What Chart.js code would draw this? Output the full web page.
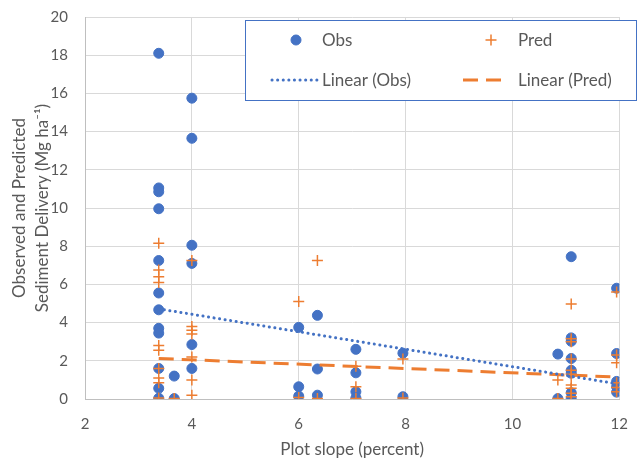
<!DOCTYPE html>
<html>
<head>
<meta charset="utf-8">
<script src="https://cdn.jsdelivr.net/npm/chart.js@4.4.1/dist/chart.umd.min.js"></script>
<style>
  html, body { margin: 0; padding: 0; background: #fff; }
  #wrap { width: 644px; height: 466px; position: relative; }
</style>
</head>
<body>
<div id="wrap"><canvas id="chart"></canvas></div>
<script>
// Observed sediment delivery (Mg/ha) against plot slope (%)
const obsSlope = [
  3.38, 3.38, 3.38, 3.38, 3.38, 3.38, 3.38, 3.38, 3.38, 3.38, 3.38, 3.38,
  3.67, 3.67,
  4, 4, 4, 4, 4, 4,
  6, 6, 6,
  6.35, 6.35, 6.35,
  7.07, 7.07, 7.07, 7.07,
  7.95, 7.95,
  10.85, 10.85,
  11.1, 11.1, 11.1, 11.1, 11.1, 11.1, 11.1, 11.1,
  11.95, 11.95, 11.95, 11.95, 11.95
];
const obsDelivery = [
  18.1, 11.05, 10.85, 9.96, 7.25, 5.55, 4.67, 3.7, 3.45, 1.6, 0.56, 0.04,
  1.2, 0.02,
  15.75, 13.65, 8.05, 7.1, 2.85, 1.6,
  3.75, 0.64, 0.15,
  4.38, 1.57, 0.2,
  2.6, 1.37, 0.38, 0.05,
  2.4, 0.12,
  2.35, 0.02,
  7.45, 3.2, 3.02, 2.12, 1.5, 1.35, 0.33, 0.03,
  5.8, 2.38, 0.92, 0.64, 0.36
];

// Predicted sediment delivery
const predSlope = [
  3.38, 3.38, 3.38, 3.38, 3.38, 3.38, 3.38, 3.38, 3.38, 3.38,
  3.67,
  4, 4, 4, 4, 4, 4, 4,
  6, 6,
  6.35, 6.35,
  7.07, 7.07, 7.07,
  7.95, 7.95,
  10.85, 10.85,
  11.1, 11.1, 11.1, 11.1, 11.1, 11.1, 11.1, 11.1, 11.1, 11.1,
  11.95, 11.95, 11.95, 11.95, 11.95, 11.95
];
const predDelivery = [
  8.15, 6.75, 6.4, 6.1, 2.8, 2.55, 1.6, 1.1, 0.85, 0.05,
  0.03,
  7.25, 3.8, 3.6, 3.4, 2.2, 1.0, 0.2,
  5.1, 0.08,
  7.25, 0.02,
  1.72, 0.64, 0.02,
  2.1, 0.05,
  1.0, 0.02,
  4.98, 3.15, 3.0, 2.1, 1.5, 1.3, 0.73, 0.56, 0.3, 0.12,
  5.6, 2.3, 1.9, 0.85, 0.6, 0.38
];

// Linear trendlines (ends at the first and last slope)
const trendSlope = [3.38, 11.95];
const obsTrend = [4.72, 0.8];
const predTrend = [2.12, 1.15];

const xTicks = [2, 4, 6, 8, 10, 12];
const yTicks = [0, 2, 4, 6, 8, 10, 12, 14, 16, 18, 20];

const BLUE = '#4472C4';
const ORANGE = '#ED7D31';
const TEXT = '#595959';
const FONT = 'Lato, "Open Sans", sans-serif';

const toPoints = (xs, ys) => xs.map((x, i) => ({ x: x, y: ys[i] }));

// legend drawn as a bordered box inside the plot, like the original
const legendBox = {
  id: 'legendBox',
  afterDraw(chart) {
    const ctx = chart.ctx;
    const ds = chart.data.datasets;
    ctx.save();
    ctx.fillStyle = '#fff';
    ctx.fillRect(245, 20, 392, 80);
    ctx.strokeStyle = BLUE;
    ctx.lineWidth = 1;
    ctx.strokeRect(245.5, 20.5, 391, 80);

    const slots = [[296, 40, 322], [491, 40, 518], [295, 80, 322], [486, 80, 518]];
    ds.forEach((d, i) => {
      const [cx, cy, tx] = slots[i];
      if (d.showLine) {
        ctx.beginPath();
        ctx.strokeStyle = d.borderColor;
        ctx.lineWidth = d.borderWidth;
        ctx.lineCap = d.borderCapStyle || 'butt';
        ctx.setLineDash(d.borderDash || []);
        ctx.moveTo(cx - 23, cy);
        ctx.lineTo(cx + 22, cy);
        ctx.stroke();
        ctx.setLineDash([]);
      } else {
        ctx.fillStyle = d.backgroundColor;
        ctx.strokeStyle = d.borderColor;
        ctx.lineWidth = d.borderWidth;
        Chart.helpers.drawPoint(ctx, {
          pointStyle: d.pointStyle, radius: d.pointRadius, rotation: 0, borderWidth: d.borderWidth
        }, cx, cy);
      }
      ctx.fillStyle = TEXT;
      ctx.font = '17px ' + FONT;
      ctx.textBaseline = 'middle';
      ctx.textAlign = 'left';
      ctx.fillText(d.label, tx, cy + 1);
    });
    ctx.restore();
  }
};

new Chart(document.getElementById('chart'), {
  type: 'scatter',
  data: {
    datasets: [
      {
        label: 'Obs',
        data: toPoints(obsSlope, obsDelivery),
        pointStyle: 'circle',
        pointRadius: 5,
        backgroundColor: BLUE,
        borderColor: BLUE,
        borderWidth: 1,
        order: 3
      },
      {
        label: 'Pred',
        data: toPoints(predSlope, predDelivery),
        pointStyle: 'cross',
        pointRadius: 5.5,
        backgroundColor: ORANGE,
        borderColor: ORANGE,
        borderWidth: 1.5,
        order: 2
      },
      {
        label: 'Linear (Obs)',
        data: toPoints(trendSlope, obsTrend),
        showLine: true,
        pointRadius: 0,
        borderColor: BLUE,
        borderWidth: 3,
        borderDash: [0.1, 5.5],
        borderCapStyle: 'round',
        order: 1
      },
      {
        label: 'Linear (Pred)',
        data: toPoints(trendSlope, predTrend),
        showLine: true,
        pointRadius: 0,
        borderColor: ORANGE,
        borderWidth: 3,
        borderDash: [15, 8],
        order: 1
      }
    ]
  },
  options: {
    responsive: true,
    maintainAspectRatio: false,
    animation: false,
    layout: { padding: { top: 17, right: 13, left: 0, bottom: 0 } },
    scales: {
      x: {
        type: 'linear',
        min: 2,
        max: 12,
        afterFit: s => { s.height = 67; },
        afterBuildTicks: s => { s.ticks = xTicks.map(v => ({ value: v })); },
        grid: { color: '#d9d9d9', drawTicks: false },
        border: { color: '#bfbfbf' },
        ticks: { color: TEXT, font: { family: FONT, size: 15 }, padding: 16 },
        title: {
          display: true,
          text: 'Plot slope (percent)',
          color: TEXT,
          font: { family: FONT, size: 17 },
          padding: { top: 0, bottom: 6 }
        }
      },
      y: {
        min: 0,
        max: 20,
        afterFit: s => { s.width = 85; s.paddingTop = 0; s.paddingBottom = 0; },
        afterBuildTicks: s => { s.ticks = yTicks.map(v => ({ value: v })); },
        grid: { color: '#d9d9d9', drawTicks: false },
        border: { color: '#bfbfbf' },
        ticks: { color: TEXT, font: { family: FONT, size: 15 }, padding: 17 },
        title: {
          display: true,
          text: ['Observed and Predicted', 'Sediment Delivery (Mg ha\u207B\u00B9)'],
          color: TEXT,
          font: { family: FONT, size: 17, lineHeight: 1.35 },
          padding: { top: 8, bottom: 0 }
        }
      }
    },
    plugins: {
      legend: { display: false },
      tooltip: { enabled: false }
    }
  },
  plugins: [legendBox]
});
</script>
</body>
</html>
